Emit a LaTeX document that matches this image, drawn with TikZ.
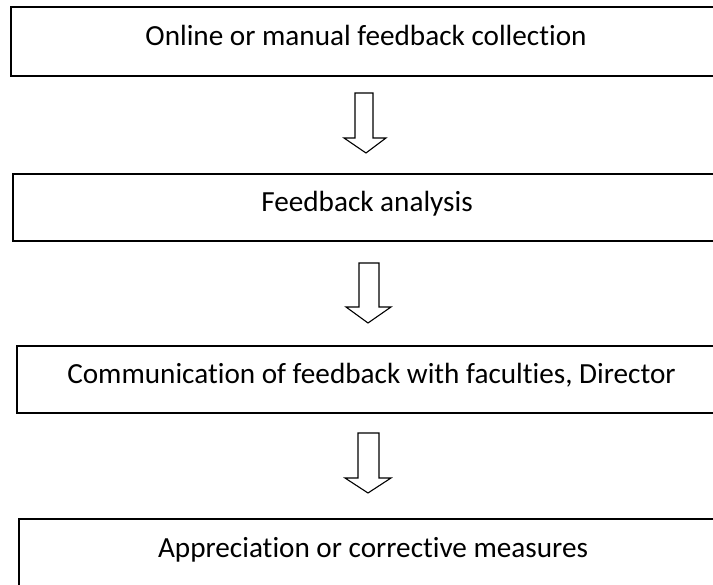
\documentclass[tikz,border=0pt]{standalone}
\usepackage{fontspec}
\setmainfont{Carlito}[RawFeature={-liga;-clig}]
\begin{document}
\begin{tikzpicture}[x=1pt,y=-1pt,
  box/.style={draw=black, line width=2pt, inner sep=0pt,
    text height=20pt, text depth=11pt,
    font=\fontsize{29.2}{35}\selectfont},
  blockarrow/.style={draw=black, line width=1.1pt, fill=white, line join=miter}]
\useasboundingbox (0,0) rectangle (713,585);
\clip (0,0) rectangle (713,585);
\node[box, minimum width=710pt, minimum height=69pt] (b1) at (366,41.5) {Online or manual feedback collection};
\node[box, minimum width=708pt, minimum height=67pt] (b2) at (367,207.5) {Feedback analysis};
\node[box, minimum width=709pt, minimum height=67pt] (b3) at (371.5,379.5) {Communication of feedback with faculties, Director};
\node[box, minimum width=708pt, minimum height=67pt] (b4) at (373,552.5) {Appreciation or corrective measures};
\draw[blockarrow] (355,93) -- (373,93) -- (373,138) -- (386,138) -- (366,153) -- (344,138) -- (355,138) -- cycle;
\draw[blockarrow] (359,263) -- (379,263) -- (379,307) -- (391,307) -- (368,323) -- (346,307) -- (359,307) -- cycle;
\draw[blockarrow] (358,433) -- (379,433) -- (379,478) -- (391,478) -- (368,493) -- (345,478) -- (358,478) -- cycle;
\end{tikzpicture}
\end{document}
